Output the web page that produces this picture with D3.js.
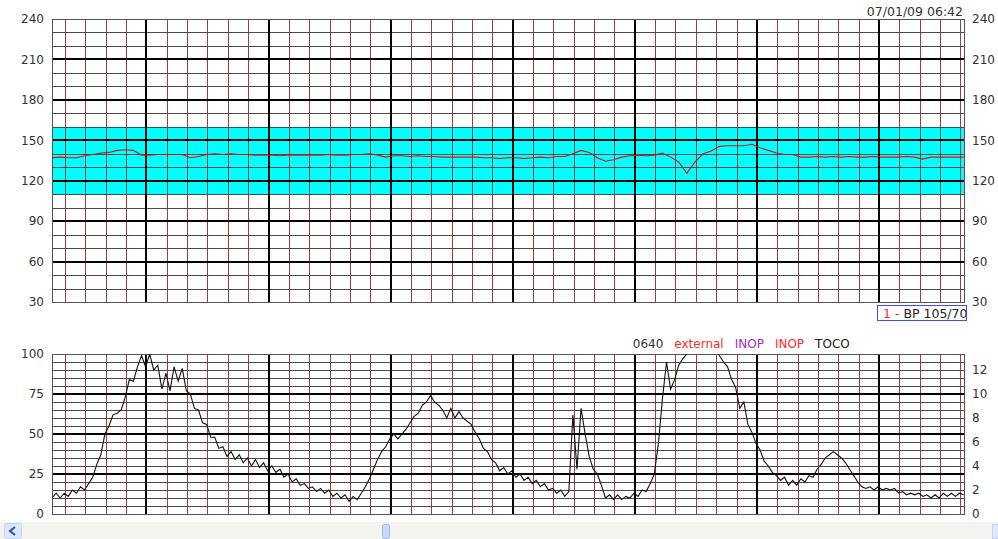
<!DOCTYPE html>
<html>
<head>
<meta charset="utf-8">
<script src="https://cdn.jsdelivr.net/npm/d3@7"></script>
<style>
  body { margin: 0; background: #fff; }
  svg { display: block; font-family: "DejaVu Sans", Verdana, sans-serif; }
</style>
</head>
<body>
<svg id="chart" width="998" height="539"></svg>
<script>
// time in seconds from 06:36:00
const tStart = -46.4, tEnd = 401.8;

// FHR (bpm), one sample every 4 s
const fhrStart = -46.4, fhrStep = 4;
const fhr = [
  137,137.5,137,137,138.5,139.5,140.5,141,142.5,143,
  142.5,139,139,139.5,139.5,139.5,139.5,137,138,139.5,
  140,139.5,140,139.5,139.5,139,139,139,138.5,139,
  139,139,139,139,139.5,139,139,139.5,139.5,140,
  139,137.5,138.5,138.5,138,138.5,138,138,137.5,137.5,
  137.5,137.5,137.5,137,137,136.5,137,137,136.5,137,
  137.5,137,138,138,140,142.5,141,137,134.5,135.5,
  137.5,138.5,139,138.5,139,140.5,137.5,134,125.5,134,
  140,142,145.5,146,146,146,147,144.5,142.5,140.5,
  139.5,139.5,137.5,137.5,138,137.5,138,137.5,138,137.5,
  137.5,138,137.5,137.5,137.5,138,137.5,136,137.5,137.5,
  137.5,137.5,137.5
];

// TOCO (mmHg), one sample every 2 s
const tocoStart = -46.4, tocoStep = 2;
const toco = [
  10,13,10,13,11,15,13,17,15,19,
  23,31,37,50,55,62,63,65,73,84,
  83,92,99,92,100,90,93,78,88,77,
  92,83,91,77,75,66,65,57,56,48,
  48,41,42,36,39,34,37,32,35,30,
  34,29,32,27,30,26,28,23,25,20,
  22,18,19,16,17,14,16,13,15,11,
  13,10,12,8,11,9,13,17,22,28,
  34,39,42,47,50,47,50,53,57,61,
  63,68,70,74,70,68,65,60,66,60,
  64,60,58,56,51,47,41,39,34,32,
  27,29,25,27,23,25,21,23,19,21,
  17,19,15,16,13,15,11,14,62,28,
  66,50,36,28,25,18,10,12,9,12,
  9,11,10,13,11,15,14,19,25,44,
  72,95,78,84,93,97,100,104,106,108,
  108,107,106,104,99,95,92,84,79,66,
  70,56,51,44,40,33,30,26,24,21,
  23,18,21,18,22,20,24,23,28,31,
  35,37,39,37,35,32,28,24,20,17,
  16,17,15,17,15,16,15,16,13,14,
  12,13,12,13,11,12,10,12,10,13,
  11,13,11,13,12
];

const fhrTicks  = [30, 60, 90, 120, 150, 180, 210, 240];
const tocoTicks = [0, 25, 50, 75, 100];
const kpaTicks  = [0, 2, 4, 6, 8, 10, 12];
const normalBand = [110, 160];
const stamp = '07/01/09 06:42';
const legendItems = ['0640', 'external', 'INOP', 'INOP', 'TOCO'];
const legendColors = ['#333', '#ff2a2a', '#9b30c0', '#ff2a2a', '#222'];
const bpItems = ['1 - ', 'BP 105/70'];
const bpColors = ['#ff2a2a', '#222'];

const svg = d3.select('#chart');
const L = 52, R = 964;
const top1 = 19, bot1 = 302, top2 = 354, bot2 = 514;

const x  = d3.scaleLinear().domain([tStart, tEnd]).range([L, R]);
const yF = d3.scaleLinear().domain([30, 240]).range([bot1, top1]);
const yT = d3.scaleLinear().domain([0, 100]).range([bot2, top2]);
const yK = d3.scaleLinear().domain([0, 100 / 7.5]).range([bot2, top2]);

const px = v => Math.round(v) + 0.5;
const secTicks = d3.range(-40, tEnd, 10);

function grid(g, y, hVals, isThick, yTop, yBot) {
  g.selectAll('line.vmin').data(secTicks.filter(t => t % 60 !== 0)).join('line')
    .attr('class', 'vmin')
    .attr('x1', t => px(x(t))).attr('x2', t => px(x(t)))
    .attr('y1', yTop).attr('y2', yBot)
    .attr('stroke', '#a33a3a').attr('stroke-width', 1);

  g.selectAll('line.hmin').data(hVals.filter(v => !isThick(v))).join('line')
    .attr('class', 'hmin')
    .attr('x1', L).attr('x2', R)
    .attr('y1', v => px(y(v))).attr('y2', v => px(y(v)))
    .attr('stroke', '#4a4a4a').attr('stroke-width', 1);

  g.selectAll('line.hmaj').data(hVals.filter(isThick)).join('line')
    .attr('class', 'hmaj')
    .attr('x1', L).attr('x2', R)
    .attr('y1', v => Math.round(y(v))).attr('y2', v => Math.round(y(v)))
    .attr('stroke', '#000').attr('stroke-width', 2);

  g.selectAll('line.vmaj').data(secTicks.filter(t => t % 60 === 0)).join('line')
    .attr('class', 'vmaj')
    .attr('x1', t => Math.round(x(t))).attr('x2', t => Math.round(x(t)))
    .attr('y1', yTop).attr('y2', yBot)
    .attr('stroke', '#000').attr('stroke-width', 2);

  g.append('rect')
    .attr('x', L + 0.5).attr('y', yTop + 0.5)
    .attr('width', R - L).attr('height', yBot - yTop)
    .attr('fill', 'none').attr('stroke', '#555');
}

function sideAxes(yl, yr, lt, rt) {
  const styleAx = g => {
    g.select('.domain').remove();
    g.selectAll('text').attr('fill', '#333').style('font-size', '12px')
      .style('font-family', '"DejaVu Sans", Verdana, sans-serif');
  };
  svg.append('g').attr('transform', `translate(${L},0)`)
    .call(d3.axisLeft(yl).tickValues(lt).tickSize(0).tickPadding(8))
    .call(styleAx);
  svg.append('g').attr('transform', `translate(${R},0)`)
    .call(d3.axisRight(yr).tickValues(rt).tickSize(0).tickPadding(8))
    .call(styleAx);
}

// ==== top panel: FHR ====
const gTop = svg.append('g');
gTop.append('rect')
  .attr('x', L).attr('width', R - L)
  .attr('y', yF(normalBand[1])).attr('height', yF(normalBand[0]) - yF(normalBand[1]))
  .attr('fill', '#00ffff');
grid(gTop, yF, d3.range(40, 240, 10), v => v % 30 === 0, top1, bot1);
sideAxes(yF, yF, fhrTicks, fhrTicks);

svg.append('clipPath').attr('id', 'clipTop')
  .append('rect').attr('x', L).attr('y', top1).attr('width', R - L).attr('height', bot1 - top1);
svg.append('path')
  .datum(fhr)
  .attr('clip-path', 'url(#clipTop)')
  .attr('fill', 'none').attr('stroke', '#e01010').attr('stroke-width', 1.1)
  .attr('d', d3.line().x((d, i) => x(fhrStart + i * fhrStep)).y(d => yF(d)));

svg.append('text')
  .attr('x', R - 1).attr('y', 16)
  .attr('text-anchor', 'end')
  .attr('fill', '#333').style('font-size', '12.5px')
  .text(stamp);

// BP box
svg.append('clipPath').attr('id', 'clipBp')
  .append('rect').attr('x', 878).attr('y', 306).attr('width', 88).attr('height', 14);
svg.append('rect')
  .attr('x', 877.5).attr('y', 305.5).attr('width', 89).attr('height', 15)
  .attr('fill', '#fff').attr('stroke', '#3a4cff');
const bpText = svg.append('text')
  .attr('x', 883).attr('y', 317.5)
  .attr('clip-path', 'url(#clipBp)')
  .style('font-size', '12.5px').attr('xml:space', 'preserve');
bpItems.forEach((s, i) => bpText.append('tspan').attr('fill', bpColors[i]).text(s));

// ==== bottom panel: TOCO ====
const gBot = svg.append('g');
grid(gBot, yT, d3.range(5, 100, 5), v => v % 25 === 0, top2, bot2);
sideAxes(yT, yK, tocoTicks, kpaTicks);

svg.append('clipPath').attr('id', 'clipBot')
  .append('rect').attr('x', L).attr('y', top2).attr('width', R - L).attr('height', bot2 - top2);
svg.append('path')
  .datum(toco)
  .attr('clip-path', 'url(#clipBot)')
  .attr('fill', 'none').attr('stroke', '#111').attr('stroke-width', 1.1)
  .attr('d', d3.line().x((d, i) => x(tocoStart + i * tocoStep)).y(d => yT(d)));

// legend row above the TOCO grid
let lx = x(240) - 2;
legendItems.forEach((s, i) => {
  const t = svg.append('text')
    .attr('x', lx).attr('y', 347.5)
    .attr('fill', legendColors[i]).style('font-size', '12px')
    .text(s);
  lx += t.node().getComputedTextLength() + 11;
});

// scroll bar strip
svg.append('rect').attr('x', 0).attr('y', 522).attr('width', 998).attr('height', 17).attr('fill', '#f3f3ef');
svg.append('rect').attr('x', 4.5).attr('y', 523.5).attr('width', 17).attr('height', 15)
  .attr('rx', 2).attr('fill', '#dfe8fb').attr('stroke', '#c2d2f2');
svg.append('path').attr('d', 'M15,527 L10,531 L15,535')
  .attr('fill', 'none').attr('stroke', '#1f4fc8').attr('stroke-width', 2);
svg.append('rect').attr('x', 382.5).attr('y', 524.5).attr('width', 7).attr('height', 14)
  .attr('rx', 2).attr('fill', '#cad9f7').attr('stroke', '#9fb5e4');
svg.append('rect').attr('x', 992.5).attr('y', 524.5).attr('width', 6).attr('height', 14)
  .attr('fill', '#dfe8fb').attr('stroke', '#c2d2f2');
</script>
</body>
</html>
